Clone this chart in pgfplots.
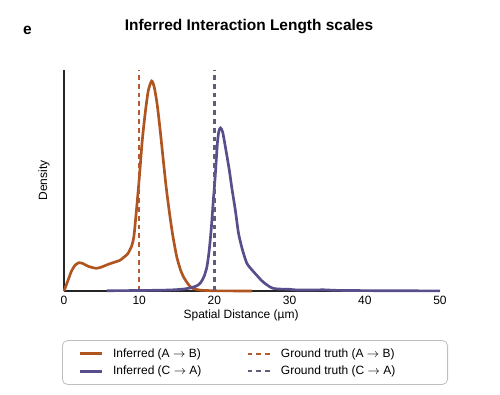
\documentclass[border=0pt]{standalone}
\usepackage{pgfplots}
\pgfplotsset{compat=1.18}
\usepackage{fontspec}
\setmainfont{Liberation Sans}
\definecolor{corange}{RGB}{176,84,32}
\definecolor{cpurple}{RGB}{86,79,140}
\definecolor{dorange}{RGB}{180,90,48}
\definecolor{dpurple}{RGB}{98,92,124}
\begin{document}
\begin{tikzpicture}
\path[use as bounding box] (0,0) rectangle (375pt,295.5pt);
\begin{axis}[
  at={(48pt,77.25pt)}, anchor=south west,
  scale only axis, width=282pt, height=165.75pt,
  xmin=0, xmax=50, ymin=0, ymax=221,
  axis x line*=bottom, axis y line*=left,
  axis line style={black!85, line width=0.9pt},
  xtick={0,10,20,30,40,50}, ytick=\empty,
  tick style={draw=none},
  /pgf/number format/assume math mode=true,
  tick label style={font=\fontsize{9}{10}\selectfont},
  xlabel={Spatial Distance (µm)},
  xlabel style={font=\fontsize{9}{10}\selectfont, at={(axis description cs:0.471,-0.112)}, anchor=center},
  ylabel={Density},
  ylabel style={font=\fontsize{9}{10}\selectfont, at={(axis description cs:-0.053,0.5)}, anchor=center},
  title={\bfseries Inferred Interaction Length scales},
  title style={font=\fontsize{11.6}{13}\selectfont, at={(axis description cs:0.492,1.198)}, anchor=center, yshift=-6pt},
  clip=false,
  legend columns=2,
  legend cell align=left,
  legend image code/.code={\draw[#1] (0pt,0pt) -- (17pt,0pt);},
  legend style={at={(axis description cs:0.508,-0.222)}, anchor=north,
    draw=black!25, rounded corners=4pt, line width=0.6pt,
    font=\fontsize{9}{10}\selectfont,
    inner xsep=12pt, inner ysep=4pt, row sep=1pt,
    /tikz/every odd column/.append style={column sep=5pt},
    /tikz/every even column/.append style={column sep=0pt}},
]
\addplot[corange, line width=2pt, smooth, tension=0.4] coordinates {
(0,0) (0.5,10) (1.0,20) (1.5,26) (2.0,28.3) (2.5,27.5) (3.0,25.5) (3.5,24)
(4.3,22.7) (5.0,24) (6.0,27) (7.0,29.5) (7.5,31) (8.0,34) (8.5,37.5) (9.0,45)
(9.3,55) (9.6,78) (10.0,112) (10.4,150) (10.8,178) (11.2,200) (11.65,210)
(12.0,204) (12.4,186) (12.8,160) (13.2,131) (13.6,103) (14.1,74) (14.5,54)
(15.0,34) (15.5,21) (15.9,14) (16.5,7) (17.0,3) (18,1) (19,0.5) (20,0.2) (22,0.1) (25,0.05)
};
\addlegendentry{\makebox[98pt][l]{Inferred (A $\rightarrow$ B)}}
\addplot[dorange, line width=1.9pt, dash pattern=on 3.6pt off 3pt] coordinates {(10,0) (10,221)};
\addlegendentry{\makebox[111pt][l]{Ground truth (A $\rightarrow$ B)}}
\addplot[cpurple, line width=2pt, smooth, tension=0.4] coordinates {
(5.7,0.3) (10,0.5) (14,1) (16,2) (17,3.5) (17.6,5) (18.1,7.7) (18.6,14) (19.0,24)
(19.3,40) (19.6,64) (19.85,90) (20.1,114) (20.4,148) (20.6,160) (20.8,163)
(21.1,159) (21.6,138) (22.0,120) (22.3,104) (22.8,80) (23.2,58) (23.7,42)
(24.3,28) (25.0,21) (25.6,16) (26.2,11) (26.7,7.7) (27.3,4.5) (27.8,2.7)
(28.5,2) (30,1.7) (31,1) (33,1) (34.5,1.2) (36,0.7) (38,0.5) (42,0.3) (46,0.2) (50,0.1)
};
\addlegendentry{\makebox[98pt][l]{Inferred (C $\rightarrow$ A)}}
\addplot[dpurple, line width=1.9pt, dash pattern=on 3.6pt off 3pt] coordinates {(20,0) (20,221)};
\addlegendentry{\makebox[111pt][l]{Ground truth (C $\rightarrow$ A)}}
\node[font=\bfseries\fontsize{11.6}{13}\selectfont] at (axis description cs:-0.097,1.18) {e};
\end{axis}
\end{tikzpicture}
\end{document}
